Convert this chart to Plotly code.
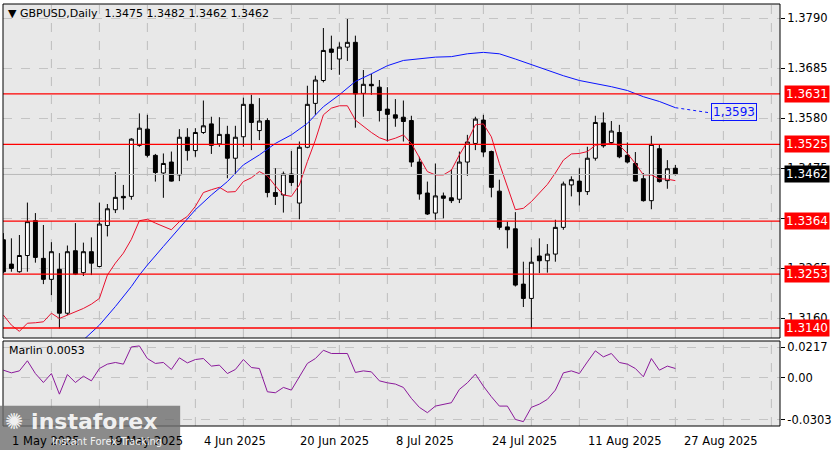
import plotly.graph_objects as go
import pandas as pd

dates = pd.bdate_range("2025-05-01", periods=85).strftime("%d %b %Y").tolist()
opens = [1.3325,1.3274,1.3258,1.3292,1.3365,1.3286,1.3242,1.3263,1.3171,1.3302,1.3256,1.3300,1.3269,1.3355,1.3388,1.3416,1.3416,1.3523,1.3557,1.3502,
         1.3465,1.3488,1.3461,1.3540,1.3512,1.3550,1.3568,1.3526,1.3546,1.3496,1.3541,1.3609,1.3554,1.3575,1.3424,1.3419,1.3463,1.3402,1.3519,1.3611,
         1.3659,1.3725,1.3704,1.3729,1.3739,1.3632,1.3651,1.3645,1.3599,1.3587,1.3582,1.3575,1.3488,1.3423,1.3381,1.3417,1.3413,1.3410,1.3488,1.3527,
         1.3576,1.3510,1.3427,1.3352,1.3348,1.3232,1.3202,1.3291,1.3281,1.3295,1.3351,1.3440,1.3448,1.3426,1.3496,1.3570,1.3529,1.3550,1.3502,1.3485,
         1.3453,1.3407,1.3516,1.3449,1.3475]
highs = [1.3339,1.3328,1.3335,1.3403,1.3381,1.3356,1.3320,1.3297,1.3313,1.3360,1.3319,1.3330,1.3403,1.3400,1.3467,1.3440,1.3538,1.3590,1.3587,1.3505,
         1.3506,1.3510,1.3557,1.3559,1.3559,1.3617,1.3583,1.3582,1.3564,1.3564,1.3623,1.3629,1.3622,1.3580,1.3475,1.3468,1.3511,1.3531,1.3648,1.3669,
         1.3769,1.3753,1.3739,1.3788,1.3753,1.3681,1.3673,1.3660,1.3645,1.3620,1.3617,1.3585,1.3499,1.3447,1.3485,1.3424,1.3473,1.3510,1.3545,1.3583,
         1.3587,1.3512,1.3451,1.3363,1.3383,1.3279,1.3309,1.3328,1.3316,1.3367,1.3447,1.3458,1.3475,1.3520,1.3585,1.3592,1.3574,1.3566,1.3529,1.3509,
         1.3465,1.3543,1.3524,1.3492,1.3482]
lows = [1.3255,1.3258,1.3256,1.3258,1.3277,1.3232,1.3209,1.3139,1.3167,1.3251,1.3249,1.3251,1.3267,1.3332,1.3381,1.3388,1.3409,1.3520,1.3498,1.3447,
        1.3413,1.3447,1.3448,1.3491,1.3499,1.3547,1.3505,1.3520,1.3454,1.3461,1.3520,1.3513,1.3534,1.3414,1.3398,1.3382,1.3438,1.3368,1.3517,1.3587,
        1.3655,1.3681,1.3671,1.3700,1.3560,1.3583,1.3629,1.3573,1.3531,1.3562,1.3531,1.3478,1.3409,1.3377,1.3367,1.3370,1.3402,1.3402,1.3459,1.3513,
        1.3499,1.3414,1.3346,1.3307,1.3227,1.3184,1.3139,1.3255,1.3256,1.3279,1.3346,1.3416,1.3397,1.3419,1.3491,1.3518,1.3524,1.3496,1.3485,1.3447,
        1.3405,1.3389,1.3445,1.3432,1.3460]
closes = [1.3258,1.3265,1.3292,1.3363,1.3288,1.3242,1.3300,1.3171,1.3300,1.3253,1.3300,1.3276,1.3358,1.3390,1.3414,1.3413,1.3536,1.3559,1.3502,1.3466,
          1.3485,1.3448,1.3540,1.3512,1.3550,1.3564,1.3523,1.3546,1.3496,1.3540,1.3609,1.3571,1.3574,1.3424,1.3416,1.3463,1.3445,1.3519,1.3609,1.3660,
          1.3722,1.3718,1.3729,1.3739,1.3631,1.3651,1.3648,1.3596,1.3588,1.3580,1.3573,1.3488,1.3421,1.3379,1.3417,1.3412,1.3407,1.3488,1.3530,1.3578,
          1.3509,1.3435,1.3351,1.3346,1.3230,1.3202,1.3278,1.3281,1.3295,1.3351,1.3442,1.3451,1.3426,1.3496,1.3571,1.3522,1.3553,1.3499,1.3488,1.3448,
          1.3407,1.3525,1.3447,1.3474,1.3462]
red_ma = [1.3167,1.3146,1.3133,1.3150,1.3151,1.3153,1.3171,1.3160,1.3167,1.3174,1.3181,1.3190,1.3202,1.3251,1.3276,1.3297,1.3326,1.3365,1.3368,1.3360,
          1.3353,1.3346,1.3363,1.3374,1.3395,1.3424,1.3430,1.3435,1.3425,1.3426,1.3447,1.3455,1.3468,1.3459,1.3438,1.3419,1.3416,1.3440,1.3489,1.3534,
          1.3587,1.3601,1.3606,1.3606,1.3576,1.3562,1.3550,1.3539,1.3533,1.3538,1.3545,1.3527,1.3496,1.3468,1.3461,1.3461,1.3471,1.3503,1.3531,1.3566,
          1.3568,1.3541,1.3485,1.3437,1.3388,1.3391,1.3405,1.3423,1.3441,1.3465,1.3492,1.3505,1.3506,1.3510,1.3523,1.3526,1.3527,1.3523,1.3506,1.3485,
          1.3461,1.3461,1.3453,1.3452,1.3449]
blue_idx = [10,12,14,16,17,18,20,22,24,26,28,30,32,34,36,38,40,42,44,46,48,50,52,54,56,58,60,62,64,66,68,70,72,74,76,78,80,82,84]
blue_ma = [1.3115,1.3146,1.3185,1.3227,1.3251,1.3272,1.3311,1.3349,1.3388,1.3419,1.3447,1.3482,1.3503,1.3527,1.3545,1.3569,1.3604,1.3629,1.3657,1.3673,
           1.3690,1.3701,1.3705,1.3708,1.3709,1.3715,1.3718,1.3715,1.3704,1.3692,1.3680,1.3669,1.3659,1.3653,1.3646,1.3638,1.3625,1.3615,1.3602]
blue_proj_idx = [84, 88.4]
blue_proj = [1.3602, 1.3591]
marlin = [0.0052,0.0033,0.0047,0.0119,0.0028,-0.0036,0.0028,-0.0119,0.0021,-0.0036,0.0009,-0.0024,0.0064,0.0095,0.0107,0.0095,0.0218,0.0225,0.0135,0.0100,
          0.0107,0.0057,0.0140,0.0104,0.0128,0.0135,0.0081,0.0088,0.0028,0.0057,0.0128,0.0071,0.0064,-0.0102,-0.0109,-0.0071,-0.0090,0.0005,0.0100,0.0135,
          0.0194,0.0171,0.0171,0.0171,0.0036,0.0047,0.0040,-0.0024,-0.0038,-0.0047,-0.0071,-0.0149,-0.0213,-0.0251,-0.0204,-0.0190,-0.0180,-0.0085,-0.0038,0.0024,
          -0.0062,-0.0137,-0.0204,-0.0204,-0.0299,-0.0315,-0.0213,-0.0190,-0.0156,-0.0090,0.0033,0.0047,0.0028,0.0111,0.0190,0.0147,0.0171,0.0107,0.0095,0.0064,
          0.0005,0.0135,0.0052,0.0081,0.0064]
levels = [1.3631, 1.3525, 1.3364, 1.3253, 1.3140]
price_ticks = [1.3790, 1.3685, 1.3580, 1.3475, 1.3370, 1.3265, 1.3160]
marlin_ticks = [0.0217, 0.0, -0.0303]
marlin_ticktext = ["0.0217", "0.00", "-0.0303"]
date_labels = ["1 May 2025", "19 May 2025", "4 Jun 2025", "20 Jun 2025", "8 Jul 2025", "24 Jul 2025", "11 Aug 2025", "27 Aug 2025"]
last_price = 1.3462
proj_label = "1,3593"

idx = list(range(len(dates)))
FONT = "DejaVu Sans"
fig = go.Figure()
fig.add_trace(go.Candlestick(x=idx, open=opens, high=highs, low=lows, close=closes,
    increasing=dict(line=dict(color="black", width=1), fillcolor="white"),
    decreasing=dict(line=dict(color="black", width=1), fillcolor="black"),
    whiskerwidth=0, showlegend=False, hoverinfo="skip"))
fig.add_trace(go.Scatter(x=idx, y=red_ma, mode="lines", line=dict(color="#e8102e", width=1), showlegend=False))
fig.add_trace(go.Scatter(x=blue_idx, y=blue_ma, mode="lines", line=dict(color="#0a14ff", width=1), showlegend=False))
fig.add_trace(go.Scatter(x=blue_proj_idx, y=blue_proj, mode="lines", line=dict(color="#0a14ff", width=1, dash="dot"), showlegend=False))
fig.add_trace(go.Scatter(x=idx, y=marlin, mode="lines", line=dict(color="#8b1a9b", width=1), showlegend=False, xaxis="x2", yaxis="y2"))

shapes = []
for g in range(6, 97, 6):
    for yr in ("y", "y2"):
        shapes.append(dict(type="line", xref="x", yref=yr + " domain", x0=g, x1=g, y0=0, y1=1,
                           line=dict(color="#bdbdbd", width=1, dash="dash"), layer="below"))
shapes.append(dict(type="line", xref="x domain", yref="y", x0=0, x1=1, y0=last_price, y1=last_price,
                   line=dict(color="#b8b8b8", width=1)))
for lv in levels:
    shapes.append(dict(type="line", xref="x domain", yref="y", x0=0, x1=1, y0=lv, y1=lv, line=dict(color="#ff0000", width=1.3)))
for dom in ([0.2085, 1], [0, 0.2014]):
    shapes.append(dict(type="rect", xref="paper", yref="paper", x0=0, x1=1, y0=dom[0], y1=dom[1], line=dict(color="black", width=1)))
shapes.append(dict(type="rect", xref="paper", yref="paper", x0=-0.0039, x1=0.228, y0=-0.057, y1=0.048,
                   fillcolor="rgba(110,110,110,0.8)", line=dict(width=0), layer="above"))

ann = []
ann.append(dict(xref="paper", yref="paper", x=0.004, y=0.997, xanchor="left", yanchor="top", showarrow=False,
                text="▼ GBPUSD,Daily  1.3475 1.3482 1.3462 1.3462", font=dict(family=FONT, size=11, color="black")))
ann.append(dict(xref="paper", yref="paper", x=0.005, y=0.198, xanchor="left", yanchor="top", showarrow=False,
                text="Marlin 0.0053", font=dict(family=FONT, size=11, color="black")))
for lv in levels:
    ann.append(dict(xref="paper", yref="y", x=1, xshift=4, y=lv, xanchor="left", yanchor="middle", showarrow=False,
                    text=f"{lv:.4f}", bgcolor="#ff0000", font=dict(family=FONT, size=12, color="white"), borderpad=1))
ann.append(dict(xref="paper", yref="y", x=1, xshift=4, y=last_price, xanchor="left", yanchor="middle", showarrow=False,
                text=f"{last_price:.4f}", bgcolor="black", font=dict(family=FONT, size=12, color="white"), borderpad=1))
ann.append(dict(xref="x", yref="y", x=88.5, y=1.3593, xanchor="left", yanchor="middle", showarrow=False,
                text=proj_label, bordercolor="#0a14ff", borderwidth=1, bgcolor="rgba(0,0,0,0)",
                font=dict(family=FONT, size=12, color="#0a14ff"), borderpad=1))
for lab in date_labels:
    d = pd.Timestamp(lab).strftime("%d %b %Y")
    i = dates.index(d)
    ann.append(dict(xref="x", yref="paper", x=i + 0.8, y=-0.014, xanchor="left", yanchor="top", showarrow=False,
                    text=lab, font=dict(family=FONT, size=11.5, color="black")))
ann.append(dict(xref="paper", yref="paper", x=0.0, y=0.045, xanchor="left", yanchor="top", showarrow=False,
                text="<b>✺ instaforex</b>", font=dict(family=FONT, size=22, color="rgba(255,255,255,0.9)")))
ann.append(dict(xref="paper", yref="paper", x=0.06, y=-0.02, xanchor="left", yanchor="top", showarrow=False,
                text="Instant Forex Tracking", font=dict(family=FONT, size=10, color="rgba(255,255,255,0.9)")))

fig.update_layout(
    width=840, height=450, margin=dict(l=3, r=60, t=4, b=24, autoexpand=False),
    paper_bgcolor="white", plot_bgcolor="#e8e8e8", showlegend=False,
    xaxis=dict(range=[-0.05, 97.08], showticklabels=False, showgrid=False, zeroline=False,
               rangeslider=dict(visible=False), anchor="y", automargin=False),
    xaxis2=dict(range=[-0.05, 97.08], showticklabels=False, showgrid=False, zeroline=False, anchor="y2",
                matches="x", automargin=False),
    yaxis=dict(domain=[0.2085, 1], range=[1.3119, 1.38194], side="right", tickvals=price_ticks,
               ticktext=[f"{t:.4f}" for t in price_ticks], gridcolor="#c4c4c4", griddash="dash",
               zeroline=False, ticks="outside", ticklen=4, tickcolor="black", automargin=False,
               tickfont=dict(family=FONT, size=11.5, color="black")),
    yaxis2=dict(domain=[0, 0.2014], range=[-0.0346, 0.026], side="right", tickvals=marlin_ticks,
                ticktext=marlin_ticktext, gridcolor="#c4c4c4", griddash="dash", zeroline=False,
                ticks="outside", ticklen=4, tickcolor="black", automargin=False,
                tickfont=dict(family=FONT, size=11.5, color="black")),
    shapes=shapes, annotations=ann,
)
fig.write_html("out.html", config={"displayModeBar": False},
               post_script="document.body.style.margin='0';document.body.style.overflow='hidden';")
